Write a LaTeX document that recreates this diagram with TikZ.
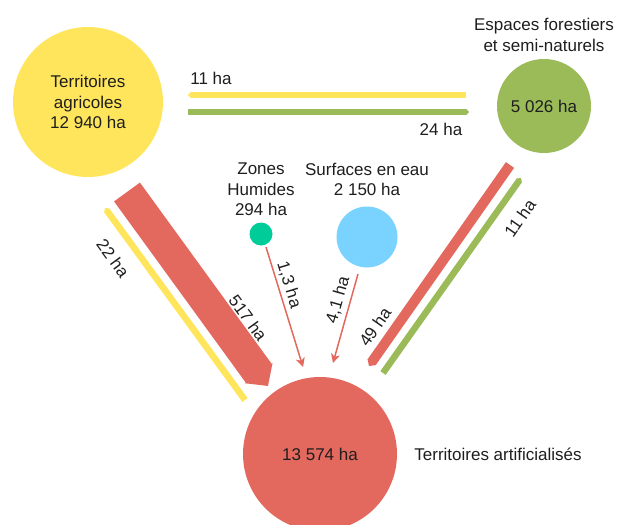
\documentclass[tikz,border=0pt]{standalone}
\usepackage{fontspec}
\setmainfont{Liberation Sans}
\usetikzlibrary{arrows.meta,positioning}

\definecolor{agricol}{HTML}{FFE55C}
\definecolor{forest}{HTML}{9BBB59}
\definecolor{artif}{HTML}{E3695F}
\definecolor{humid}{HTML}{00CC99}
\definecolor{water}{HTML}{7AD3FF}
\definecolor{txt}{HTML}{1E1E1E}

\begin{document}
\begin{tikzpicture}[
  x=1pt, y=-1pt,
  every node/.style={font=\fontsize{17}{20.5}\selectfont, text=txt},
  pool/.style={circle, inner sep=0pt, align=center},
  flow/.style={-{Triangle[length=0pt 0.5, width=0pt 1.05]}},
  thinflow/.style={-{Stealth[length=9pt, width=9pt, inset=2.5pt]}, line width=1.5pt, draw=artif},
  val/.style={inner sep=1pt}
]
\useasboundingbox (0,0) rectangle (630,525);
\clip (0,0) rectangle (630,525);

% Pools
\node[pool, fill=agricol, minimum size=150pt] (agri) at (88,102) {Territoires\\agricoles\\12 940 ha};
\node[pool, fill=forest, minimum size=94pt] (fores) at (544,106) {5 026 ha};
\node[pool, fill=humid, minimum size=23pt] (zh) at (261,234) {};
\node[pool, fill=water, minimum size=61pt] (eau) at (367,237) {};
\node[pool, fill=artif, minimum size=154pt] (artf) at (320,454) {13 574 ha};

% Pool titles
\node[align=center, inner sep=0pt, above=7pt of fores] (fores-t) {Espaces forestiers\\et semi-naturels};
\node[align=center, inner sep=0pt, above=6pt of zh] (zh-t) {Zones\\Humides\\294 ha};
\node[align=center, inner sep=0pt, above=10pt of eau] (eau-t) {Surfaces en eau\\2 150 ha};
\node[inner sep=0pt, anchor=west, right=17pt of artf] (artf-t) {Territoires artificialisés};

% Flow ends
\coordinate (f2a-s) at (466,95);
\coordinate (f2a-e) at (188,95);
\coordinate (a2f-s) at (188,112);
\coordinate (a2f-e) at (469,112);
\coordinate (a2t-s) at (127,192);
\coordinate (a2t-e) at (268,386);
\coordinate (t2a-s) at (245,400);
\coordinate (t2a-e) at (105,208);
\coordinate (f2t-s) at (510,165);
\coordinate (f2t-e) at (369,366);
\coordinate (t2f-s) at (383,373);
\coordinate (t2f-e) at (521,178);
\coordinate (zh2t-s) at (266,247);
\coordinate (zh2t-e) at (303,367);
\coordinate (e2t-s) at (358,274);
\coordinate (e2t-e) at (333,363);

% Flows
\draw[flow, agricol, line width=6pt] (f2a-s) -- (f2a-e);
\draw[flow, forest, line width=6pt] (a2f-s) -- (a2f-e);
\draw[flow, artif, line width=32pt] (a2t-s) -- (a2t-e);
\draw[flow, agricol, line width=6.5pt] (t2a-s) -- (t2a-e);
\draw[flow, artif, line width=10pt] (f2t-s) -- (f2t-e);
\draw[flow, forest, line width=6.5pt] (t2f-s) -- (t2f-e);
\draw[thinflow] (zh2t-s) -- (zh2t-e);
\draw[thinflow] (e2t-s) -- (e2t-e);

% Flow values
\node[val] (v-f2a) at (211,78) {11 ha};
\node[val] (v-a2f) at (441,129) {24 ha};
\node[val, rotate=-54] (v-a2t) at (248,318) {517 ha};
\node[val, rotate=-54] (v-t2a) at (113,258) {22 ha};
\node[val, rotate=55] (v-f2t) at (375,327) {49 ha};
\node[val, rotate=55] (v-t2f) at (520,218) {11 ha};
\node[val, rotate=-73] (v-zh2t) at (289,285) {1,3 ha};
\node[val, rotate=74] (v-e2t) at (338,300) {4,1 ha};

\end{tikzpicture}
\end{document}
